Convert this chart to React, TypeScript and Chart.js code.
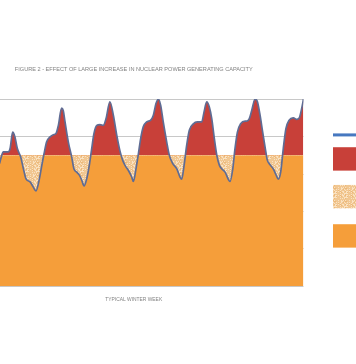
import React, { useEffect, useRef } from 'react';
import { Chart, registerables } from 'chart.js';

Chart.register(...registerables);

// Hours into the typical winter week (0..168); the visible part of the figure starts near hour 17.5
const hours = [
  17.6, 18.7, 19.4, 21.9, 22.8, 24.1, 25.2, 26.4, 28.1, 29.4,
  30.7, 32.7, 34.3, 35.6, 37.3, 38.5, 39.6, 40.9, 42.6, 44.2,
  45.5, 46.7, 48.3, 49.1, 50.0, 51.6, 53.3, 54.4, 55.8, 57.1,
  58.3, 59.4, 60.7, 62.0, 63.2, 64.3, 65.7, 67.3, 68.9, 70.3,
  72.2, 73.9, 75.6, 77.2, 78.5, 79.7, 81.3, 83.0, 83.8, 85.1,
  86.3, 87.4, 88.7, 90.4, 92.4, 93.7, 95.0, 96.2, 97.3, 98.6,
  100.3, 101.6, 103.3, 105.3, 106.9, 107.7, 108.9, 110.2, 111.5, 113.5,
  115.4, 117.6, 118.8, 120.1, 121.4, 122.6, 123.9, 125.1, 126.4, 127.5,
  129.2, 130.8, 131.6, 133.0, 134.1, 135.3, 136.9, 139.1, 139.9, 141.2,
  142.4, 144.0, 145.2, 146.5, 147.8, 149.1, 150.1, 151.4, 153.1, 154.4,
  155.5, 156.7, 158.0, 159.3, 160.9, 163.0, 164.6, 165.9, 167.1, 168.0,
];

// Electricity demand (GW)
const demand = [
  32.8, 35.0, 35.9, 35.9, 36.8, 41.2, 39.9, 36.8, 34.5, 31.4,
  28.7, 27.9, 26.5, 25.5, 28.7, 32.3, 35.4, 38.6, 39.9, 40.5,
  40.8, 43.0, 47.6, 47.0, 43.9, 38.6, 34.5, 31.4, 30.5, 29.7,
  28.3, 26.8, 28.7, 32.3, 36.8, 40.8, 43.0, 43.2, 43.0, 44.8,
  49.3, 45.7, 40.3, 36.1, 33.7, 32.3, 31.0, 29.2, 28.0, 31.4,
  35.4, 39.4, 42.6, 43.9, 44.4, 45.7, 48.8, 50.0, 48.4, 43.9,
  38.6, 35.0, 32.8, 31.4, 29.2, 28.6, 32.3, 37.7, 41.7, 43.4,
  43.9, 43.9, 46.6, 49.3, 47.9, 44.8, 39.4, 35.0, 32.3, 31.4,
  30.5, 28.6, 28.0, 31.4, 36.8, 41.2, 43.4, 44.1, 44.1, 44.8,
  47.0, 50.0, 49.3, 45.7, 41.2, 36.8, 33.7, 32.5, 31.3, 29.8,
  28.6, 30.5, 36.8, 42.1, 44.4, 45.0, 44.6, 45.0, 47.5, 50.0,
];

// Nuclear generating capacity (GW), flat across the week
const nuclearHours = [0, 168];
const nuclearLevel = [35, 35];

const yMin = 0;
const yMax = 50;
const yStep = 10;
const xMin = 0;
const xMax = 168;

const titleText = 'FIGURE 2 - EFFECT OF LARGE INCREASE IN NUCLEAR POWER GENERATING CAPACITY';
const xTitleText = 'TYPICAL WINTER WEEK';

const RED = 'rgb(200,64,57)';
const ORANGE = 'rgb(245,158,58)';
const LINE = 'rgb(95,108,148)';
const LEGEND_LINE = 'rgb(70,120,192)';
const GRID = 'rgb(200,200,200)';
const TEXT = 'rgb(130,130,130)';

function makeSpecklePattern(): CanvasPattern | string {
  const W = 11;
  const H = 13;
  const c = document.createElement('canvas');
  c.width = W;
  c.height = H;
  const g = c.getContext('2d');
  const base = 'rgb(241,199,146)';
  if (!g) return base;
  g.fillStyle = base;
  g.fillRect(0, 0, W, H);
  for (let py = 0; py < H; py++) {
    for (let px = 0; px < W; px++) {
      const h = (px * 7 + py * 13 + px * py * 5 + ((px * px) % 4)) % 9;
      if (h < 3) {
        g.fillStyle = 'rgb(250,226,194)';
        g.fillRect(px, py, 1, 1);
      } else if (h === 5) {
        g.fillStyle = 'rgb(236,184,120)';
        g.fillRect(px, py, 1, 1);
      }
    }
  }
  return g.createPattern(c, 'repeat') || base;
}

export default function App() {
  const ref = useRef<HTMLCanvasElement | null>(null);

  useEffect(() => {
    const canvas = ref.current;
    if (!canvas) return;
    const tan = makeSpecklePattern();

    const markerLegend = {
      id: 'markerLegend',
      afterDraw(chart: any) {
        const { ctx, chartArea } = chart;
        const x = chartArea.right + 29.5;
        const t = chartArea.top;
        const w = 26;
        const h = 23.4;
        ctx.save();
        ctx.fillStyle = LEGEND_LINE;
        ctx.fillRect(x, t + 34.3, w, 3);
        ctx.fillStyle = RED;
        ctx.fillRect(x, t + 48.1, w, h);
        ctx.fillStyle = tan;
        ctx.fillRect(x, t + 85.8, w, h);
        ctx.fillStyle = ORANGE;
        ctx.fillRect(x, t + 125.1, w, h);
        ctx.restore();
      },
    };

    const chart = new Chart(canvas, {
      type: 'line',
      data: {
        datasets: [
          {
            label: 'Demand',
            data: hours.map((h, i) => ({ x: h, y: demand[i] })),
            borderColor: LINE,
            borderWidth: 1.7,
            pointRadius: 0,
            cubicInterpolationMode: 'monotone',
            fill: { target: 1, above: RED, below: tan as any },
          },
          {
            label: 'Nuclear',
            data: nuclearHours.map((h, i) => ({ x: h, y: nuclearLevel[i] })),
            borderWidth: 0,
            borderColor: 'rgba(0,0,0,0)',
            backgroundColor: ORANGE,
            pointRadius: 0,
            fill: 'origin',
          },
        ],
      },
      options: {
        responsive: false,
        animation: false,
        events: [],
        layout: { padding: { left: 0, right: 52.5, top: 0, bottom: 61.3 } },
        scales: {
          x: {
            type: 'linear',
            min: xMin,
            max: xMax,
            grid: { display: false, drawTicks: false },
            border: { display: false },
            ticks: { display: false },
            title: {
              display: true,
              text: xTitleText,
              color: TEXT,
              font: { family: 'Liberation Sans, Arial, sans-serif', size: 4.9, lineHeight: 1.2 },
              padding: { top: 10.5, bottom: 0 },
            },
          },
          y: {
            min: yMin,
            max: yMax,
            ticks: { display: false, stepSize: yStep },
            grid: { color: GRID, lineWidth: 1, drawTicks: false },
            border: { display: false },
          },
        },
        plugins: {
          legend: { display: false },
          tooltip: { enabled: false },
          title: {
            display: true,
            text: titleText,
            fullSize: false,
            color: TEXT,
            font: { family: 'Liberation Sans, Arial, sans-serif', size: 5.6, weight: 'normal', lineHeight: 1.2 },
            padding: { top: 66.5, bottom: 25.9 },
          },
        },
      },
      plugins: [markerLegend],
    });

    return () => chart.destroy();
  }, []);

  return (
    <div style={{ position: 'fixed', left: 0, top: 0, width: 356, height: 364, overflow: 'hidden', background: '#fff' }}>
      <canvas
        ref={ref}
        width={392}
        height={364}
        style={{ position: 'absolute', left: -36, top: 0, width: 392, height: 364 }}
      />
    </div>
  );
}
